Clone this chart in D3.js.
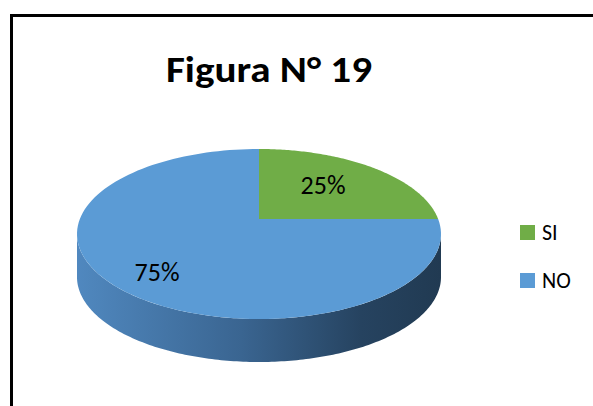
<!DOCTYPE html>
<html>
<head>
<meta charset="utf-8">
<script src="https://cdn.jsdelivr.net/npm/d3@7"></script>
<style>
  body { margin: 0; background: #fff; }
  text { font-family: Carlito, Calibri, "Liberation Sans", Arial, sans-serif; }
</style>
</head>
<body>
<div id="chart"></div>
<script>
var categories = ["SI", "NO"];
var values = [25, 75];
var labels = ["25%", "75%"];
var colors = ["#70AD47", "#5B9BD5"];
var title = "Figura N\u00b0 19";

var width = 593, height = 406;

// pie geometry (tilted 3d look)
var cx = 259, cy = 234, rx = 182, ry = 85, depth = 43;
var px = 259, py = 219; // projected centre of the pie

var svg = d3.select("#chart").append("svg")
    .attr("width", width)
    .attr("height", height);

var defs = svg.append("defs");
var grad = defs.append("linearGradient")
    .attr("id", "side")
    .attr("x1", "0%").attr("x2", "100%").attr("y1", "0%").attr("y2", "0%");
grad.append("stop").attr("offset", "0%").attr("stop-color", "#5088bf");
grad.append("stop").attr("offset", "45%").attr("stop-color", "#3a6591");
grad.append("stop").attr("offset", "78%").attr("stop-color", "#264360");
grad.append("stop").attr("offset", "100%").attr("stop-color", "#213a52");

// outer frame (only top and left visible in the crop)
svg.append("rect")
    .attr("x", 11.5).attr("y", 15.5)
    .attr("width", 700).attr("height", 500)
    .attr("fill", "none")
    .attr("stroke", "#000")
    .attr("stroke-width", 3);

svg.append("text")
    .attr("x", 269).attr("y", 82)
    .attr("text-anchor", "middle")
    .attr("font-size", 36)
    .attr("font-weight", "bold")
    .attr("textLength", 206)
    .attr("lengthAdjust", "spacingAndGlyphs")
    .text(title);

// intersect ray from pie centre with the top ellipse
function edgePoint(a, f) {
  var dx = rx * Math.sin(a), dy = -ry * Math.cos(a);
  var ox = px - cx, oy = py - cy;
  var A = (dx * dx) / (rx * rx) + (dy * dy) / (ry * ry);
  var B = 2 * ((ox * dx) / (rx * rx) + (oy * dy) / (ry * ry));
  var C = (ox * ox) / (rx * rx) + (oy * oy) / (ry * ry) - 1;
  var t = (-B + Math.sqrt(B * B - 4 * A * C)) / (2 * A);
  return [px + dx * t * f, py + dy * t * f];
}

var pie = d3.pie().sort(null).value(function(d) { return d; });
var arcs = pie(values);

// side wall (front half)
var line = d3.line();
var front = [];
var back = [];
d3.range(0, 181).forEach(function(i) {
  var th = Math.PI * i / 180;
  front.push([cx - rx * Math.cos(th), cy + ry * Math.sin(th)]);
});
d3.range(180, -1, -1).forEach(function(i) {
  var th = Math.PI * i / 180;
  back.push([cx - rx * Math.cos(th), cy + depth + ry * Math.sin(th)]);
});
svg.append("path")
    .attr("d", line(front.concat(back)) + "Z")
    .attr("fill", "url(#side)");

// top face wedges
svg.selectAll(".slice")
    .data(arcs)
  .enter().append("path")
    .attr("class", "slice")
    .attr("fill", function(d, i) { return colors[i]; })
    .attr("d", function(d) {
      var n = 120, pts = [[px, py]];
      for (var k = 0; k <= n; k++) {
        pts.push(edgePoint(d.startAngle + (d.endAngle - d.startAngle) * k / n, 1));
      }
      return line(pts) + "Z";
    });

svg.selectAll(".lbl")
    .data(arcs)
  .enter().append("text")
    .attr("class", "lbl")
    .attr("x", function(d) { return edgePoint((d.startAngle + d.endAngle) / 2, 0.65)[0] - 8.5; })
    .attr("y", function(d) { return edgePoint((d.startAngle + d.endAngle) / 2, 0.73)[1] + 4; })
    .attr("dy", "0.33em")
    .attr("text-anchor", "middle")
    .attr("font-size", 26)
    .attr("fill", "#000")
    .text(function(d, i) { return labels[i]; });

// legend
var legend = svg.selectAll(".leg")
    .data(categories)
  .enter().append("g")
    .attr("class", "leg")
    .attr("transform", function(d, i) { return "translate(520," + (225 + i * 48) + ")"; });

legend.append("rect")
    .attr("width", 15).attr("height", 15)
    .attr("fill", function(d, i) { return colors[i]; });

legend.append("text")
    .attr("x", 22).attr("y", 15)
    .attr("font-size", 22)
    .text(function(d) { return d; });
</script>
</body>
</html>
